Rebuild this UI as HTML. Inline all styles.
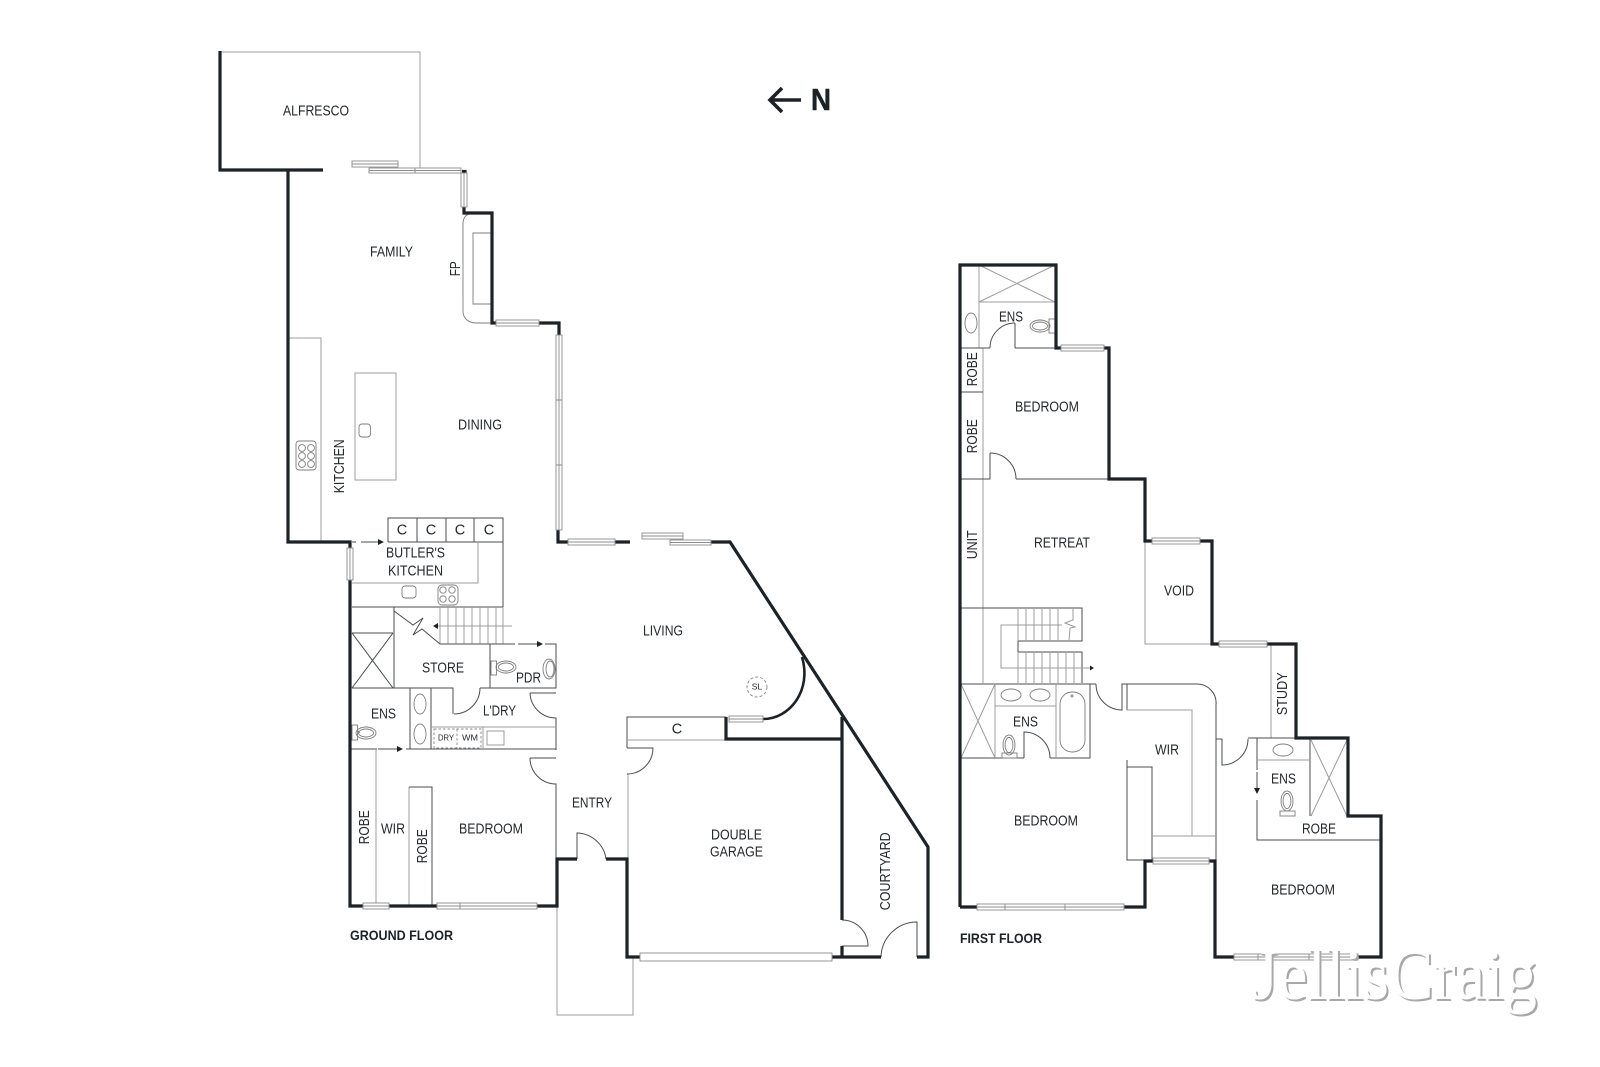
<!DOCTYPE html>
<html><head><meta charset="utf-8"><style>
html,body{margin:0;padding:0;background:#fff}
svg{display:block}
text{font-family:"Liberation Sans",sans-serif;font-size:14.5px;fill:#24292c;text-anchor:start}
.c{text-anchor:middle}
.b{font-weight:bold;font-size:14px;fill:#1c2226}
.w{fill:none;stroke:#1c2226;stroke-width:3.2;stroke-linejoin:miter;stroke-linecap:butt}
.t{fill:none;stroke:#9c9c9c;stroke-width:1}
.m{fill:none;stroke:#4a4e50;stroke-width:1}
.g{fill:#fff;stroke:#8c8c8c;stroke-width:.9}
.f{fill:none;stroke:#7e7e7e;stroke-width:.9}
.d{fill:none;stroke:#8a8a8a;stroke-width:.9;stroke-dasharray:2.5 2}
.wm{font-family:"Liberation Serif",serif;font-size:72px}
</style></head><body>
<svg width="1600" height="1067" viewBox="0 0 1600 1067" xmlns="http://www.w3.org/2000/svg">
<rect width="1600" height="1067" fill="#fff"/>

<!-- thin outlines -->
<path class="t" d="M220 52H420V170M557 906V1015H633V957"/>
<path class="t" d="M289 338H321V542M355 373H396V480H355Z"/>
<rect class="f" x="359" y="424" width="11.500" height="13" rx="3"/>
<rect class="f" x="296" y="441" width="20" height="29" rx="3"/>
<g class="f"><circle cx="302" cy="448" r="3.400"/><circle cx="311" cy="448" r="3.400"/><circle cx="302" cy="456" r="3.400"/><circle cx="311" cy="456" r="3.400"/><circle cx="302" cy="464" r="3.400"/><circle cx="311" cy="464" r="3.400"/></g>
<path class="f" d="M472 213C466 214 463 218 463 224V311C463 318 468 323 476 323H492M492 233H473V304H492"/>

<!-- butler kitchen -->
<path class="m" d="M388 542V518H503V607H352M417 518V542M446 518V542M474 518V542M388 542H503"/>
<path class="t" d="M478 542V583H352"/>
<rect class="f" x="402" y="586" width="14" height="12" rx="3"/>
<rect class="f" x="438" y="585" width="20" height="20" rx="4"/>
<g class="f"><circle cx="443" cy="590" r="3.200"/><circle cx="452" cy="590" r="3.200"/><circle cx="443" cy="599" r="3.200"/><circle cx="452" cy="599" r="3.200"/></g>
<path class="m" d="M352 542H356M361 542H378"/><path d="M378 539L384 542L378 545Z" fill="#1c2226"/>

<!-- stairs ground -->
<path class="t" d="M448 607V644M456 607V644M464 607V644M472 607V644M480 607V644M488 607V644M496 607V644M440 607V644M503 607V644"/>
<path class="t" d="M437 626H512"/><path d="M433 626L438 623V629Z" fill="#1c2226"/>
<path class="m" d="M394 611L413 625L423 618L413 635L422 629L440 644H515M518 644H537"/>
<path d="M537 641L543 644L537 647Z" fill="#1c2226"/>
<path class="m" d="M545 644H556V688H490V644M394 607V688M352 688H453V714M480 688H490M352 633H393M352 633L393 688M393 633L352 688"/>
<path class="m" d="M454 714A26 26 0 0 0 480 688"/>
<path class="m" d="M530 693H556M530 693A26 26 0 0 0 556 718V750M530 758H556M530 758A26 26 0 0 0 556 784V860"/>
<path class="m" d="M410 688V749M431 688V749M350 749H377M406 749H556"/>
<path class="m" d="M378 749H397"/><path d="M397 746L403 749L397 752Z" fill="#1c2226"/>
<path class="t" d="M431 727H556M483 727V749"/>
<rect class="t" x="487" y="731" width="17" height="14"/>
<rect class="d" x="434" y="729" width="47" height="19"/><path class="d" d="M457 729V748"/>
<g class="f">
<ellipse cx="420" cy="704" rx="6" ry="10"/><ellipse cx="420" cy="734" rx="6" ry="10"/>
<ellipse cx="366" cy="733" rx="10" ry="6"/><ellipse cx="366" cy="733" rx="7.500" ry="4"/>
<rect x="352" y="725" width="5.500" height="15"/><path d="M357 730L360 733"/>
<ellipse cx="506" cy="667" rx="10" ry="6"/><ellipse cx="506" cy="667" rx="7.500" ry="4"/>
<rect x="491" y="661" width="5.500" height="14"/>
<ellipse cx="549" cy="669" rx="6" ry="10"/><ellipse cx="550" cy="669" rx="4" ry="8"/>
</g>

<!-- robes / bedroom -->
<path class="t" d="M376 749V906M409 906V787"/>
<path class="m" d="M409 787H432V906"/>

<!-- entry / garage doors -->
<path class="m" d="M577 859V833A30 30 0 0 1 606 859"/>
<path class="t" d="M628 774V859"/>
<path class="m" d="M627 748H653A26 26 0 0 1 627 774"/>
<path class="m" d="M627 748V717H726"/>
<path class="t" d="M627 740H726"/>
<path class="m" d="M842 920A26 26 0 0 1 868 946H842M917 957V922A36 36 0 0 0 881 957"/>
<circle cx="757" cy="687" r="10" fill="none" stroke="#888" stroke-width=".9" stroke-dasharray="3 2"/>

<!-- ground walls -->
<path class="w" d="M220 51V170H323M288 170V542H350V906H363M389 906H437M537 906H557V859H577M606 859H627V957H640M832 957H842V946M842 920V717M842 957H881M917 957H928V847L730 542H711M726 717V739H842"/>
<path class="w" d="M462 171.500H465V173M464 207V213H492V323H496M539 323H559V335M558 530V542H568M615 542H630"/>
<path class="w" style="stroke-width:2.600" d="M763 719C790 719 812 690 802 657"/>

<!-- ground windows -->
<g class="g">
<rect x="352" y="161" width="46" height="6"/><path d="M352 164H398"/>
<rect x="369" y="168" width="46" height="5"/><path d="M369 170.500H415"/>
<rect x="415" y="168" width="46" height="5"/><path d="M415 170.500H461"/>
<rect x="461" y="173" width="6" height="34"/><path d="M464 173V207"/>
<rect x="496" y="320" width="43" height="6"/><path d="M496 323H539"/>
<rect x="556" y="335" width="6" height="195"/><path d="M559 335V530M556 400H562M556 465H562"/>
<rect x="568" y="539" width="47" height="6"/><path d="M568 542H615"/>
<rect x="642" y="533" width="41" height="6"/><path d="M642 536H683"/>
<rect x="670" y="540" width="41" height="5"/><path d="M670 542.500H711"/>
<rect x="347" y="548" width="6" height="32"/><path d="M350 548V580"/>
<rect x="363" y="903" width="26" height="6"/><path d="M363 906H389"/>
<rect x="437" y="903" width="23" height="6"/><path d="M437 906H460"/>
<rect x="460" y="903" width="77" height="6"/><path d="M460 906H537"/>
<rect x="729" y="716" width="34" height="6"/><path d="M729 719H763"/>
<rect x="640" y="953" width="192" height="8"/>
</g>

<!-- first floor thin -->
<path class="t" d="M979 265V348M979 302H1055M979 265L1055 302M1055 265L979 302M983 348V683"/>
<path class="m" d="M960 392H983M960 348H990M1015 348V323M1015 348H1056M960 479H990V453M1016 479H1109"/>
<path class="m" d="M990 348A25 25 0 0 1 1015 323M990 453A26 26 0 0 1 1016 479"/>
<g class="f">
<ellipse cx="971" cy="323" rx="6" ry="10"/>
<ellipse cx="1040" cy="326" rx="10" ry="6"/><ellipse cx="1040" cy="326" rx="7.500" ry="4"/>
<rect x="1049" y="319" width="6" height="14"/>
</g>

<!-- first stairs -->
<path class="m" d="M960 608H1082V641H1018V652H1082V683"/>
<path class="t" d="M1018 608V641M1026 608V641M1034 608V641M1042 608V641M1050 608V641M1058 608V641M1018 652V683M1026 652V683M1034 652V683M1042 652V683M1050 652V683M1058 652V683M1066 652V683M1074 652V683"/>
<path class="t" d="M1062 625H1001V668H1090"/>
<path d="M1090 665.500L1094 668L1090 670.500Z" fill="#1c2226"/>
<path class="t" d="M1073 608V620L1065 623L1075 627L1070 628L1069 641"/>

<!-- first ens -->
<path class="m" d="M960 684H1096M1090 684V758H1050M1024 758H960M1024 758V732A26 26 0 0 1 1050 758"/>
<path class="t" d="M995 684V758M1056 684V758M995 706H1056M961 684L995 758M995 684L961 758"/>
<g class="f">
<ellipse cx="1011" cy="695" rx="10" ry="6"/><ellipse cx="1040" cy="695" rx="10" ry="6"/>
<ellipse cx="1009" cy="745" rx="6" ry="10"/><ellipse cx="1009" cy="745" rx="4" ry="7.500"/>
<rect x="1002" y="753" width="15" height="5"/>
<rect x="1060" y="692" width="25" height="60" rx="12"/>
<circle cx="1072" cy="696" r="1"/>
</g>
<path class="m" d="M1096 684A26 26 0 0 0 1122 710V684H1197A19 19 0 0 1 1216 705V860M1127 684V710M1127 760V860H1145M1127 767H1152V860"/>
<path class="t" d="M1127 710H1192V836M1152 836H1216"/>

<!-- study, rear -->
<path class="t" d="M1271 644V738"/>
<path class="m" d="M1216 739H1222V765A26 26 0 0 0 1248 739M1248 738H1296M1257 738V770M1257 800V816M1257 816V840H1381M1310 738V816"/>
<path class="m" d="M1257 772V788"/><path d="M1254 788L1257 794L1260 788Z" fill="#1c2226"/>
<path class="t" d="M1257 760H1310M1311 816L1347 740M1311 740L1347 816"/>
<g class="f">
<ellipse cx="1283" cy="750" rx="10" ry="6"/>
<ellipse cx="1287" cy="801" rx="6" ry="10"/><ellipse cx="1287" cy="801" rx="4" ry="7.500"/>
<rect x="1280" y="811" width="15" height="5"/>
</g>
<path class="t" d="M1145 541V644H1212"/>

<!-- first walls -->
<path class="w" d="M960 907V265H1056V348H1061M1104 348H1109V479H1145V541H1152M1200 541H1212V644H1219M1267 644H1296V738H1348V816H1381V957H1358M1234 957H1215V861H1209M1153 861H1145V907H1124M977 907H960"/>

<!-- first windows -->
<g class="g">
<rect x="1061" y="345" width="43" height="6"/><path d="M1061 348H1104"/>
<rect x="1152" y="538" width="48" height="6"/><path d="M1152 541H1200"/>
<rect x="1219" y="641" width="48" height="6"/><path d="M1219 644H1267"/>
<rect x="1153" y="858" width="56" height="6"/><path d="M1153 861H1209"/>
<rect x="977" y="904" width="147" height="6"/><path d="M977 907H1124M1005 904V910M1065 904V910"/>
<rect x="1234" y="954" width="124" height="6"/><path d="M1234 957H1358M1258 954V960M1309 954V960"/>
</g>

<!-- north -->
<path d="M801 100H771M782 88L770 100L782 112" fill="none" stroke="#1c2226" stroke-width="3.600"/>
<text x="811" y="110" style="font-size:31px;font-weight:bold;fill:#1c2226;stroke:#1c2226;stroke-width:.5" textLength="20" lengthAdjust="spacingAndGlyphs">N</text>

<!-- labels -->
<g transform="translate(0 -0.7)">
<text x="283" y="116" textLength="66" lengthAdjust="spacingAndGlyphs">ALFRESCO</text>
<text x="370" y="257" textLength="43" lengthAdjust="spacingAndGlyphs">FAMILY</text>
<text transform="translate(460 277) rotate(-90)" textLength="15" lengthAdjust="spacingAndGlyphs">FP</text>
<text transform="translate(344 494) rotate(-90)" textLength="54" lengthAdjust="spacingAndGlyphs">KITCHEN</text>
<text x="458" y="430" textLength="44" lengthAdjust="spacingAndGlyphs">DINING</text>
<text x="386" y="558" textLength="59" lengthAdjust="spacingAndGlyphs">BUTLER'S</text>
<text x="388" y="576" textLength="55" lengthAdjust="spacingAndGlyphs">KITCHEN</text>
<text class="c" x="402" y="535">C</text><text class="c" x="431" y="535">C</text><text class="c" x="460" y="535">C</text><text class="c" x="489" y="535">C</text>
<text x="643" y="636" textLength="40" lengthAdjust="spacingAndGlyphs">LIVING</text>
<text x="422" y="673" textLength="42" lengthAdjust="spacingAndGlyphs">STORE</text>
<text x="516" y="683" textLength="25" lengthAdjust="spacingAndGlyphs">PDR</text>
<text x="371" y="719" textLength="25" lengthAdjust="spacingAndGlyphs">ENS</text>
<text x="483" y="716" textLength="33" lengthAdjust="spacingAndGlyphs">L'DRY</text>
<text x="438" y="741" style="font-size:8.500px" textLength="16" lengthAdjust="spacingAndGlyphs">DRY</text>
<text x="462" y="741" style="font-size:8.500px" textLength="16" lengthAdjust="spacingAndGlyphs">WM</text>
<text transform="translate(369 845) rotate(-90)" textLength="34" lengthAdjust="spacingAndGlyphs">ROBE</text>
<text x="381" y="834" textLength="24" lengthAdjust="spacingAndGlyphs">WIR</text>
<text transform="translate(427 864) rotate(-90)" textLength="34" lengthAdjust="spacingAndGlyphs">ROBE</text>
<text x="459" y="834" textLength="64" lengthAdjust="spacingAndGlyphs">BEDROOM</text>
<text x="572" y="808" textLength="40" lengthAdjust="spacingAndGlyphs">ENTRY</text>
<text class="b" x="350" y="940.500" textLength="103" lengthAdjust="spacingAndGlyphs">GROUND FLOOR</text>
<text class="c" x="677" y="734">C</text>
<text x="711" y="840" textLength="51" lengthAdjust="spacingAndGlyphs">DOUBLE</text>
<text x="710" y="857" textLength="53" lengthAdjust="spacingAndGlyphs">GARAGE</text>
<text transform="translate(890 911) rotate(-90)" textLength="78" lengthAdjust="spacingAndGlyphs">COURTYARD</text>
<text class="c" x="757" y="690" style="font-size:8.500px">SL</text>

<text x="999" y="322" textLength="24" lengthAdjust="spacingAndGlyphs">ENS</text>
<text x="1015" y="412" textLength="64" lengthAdjust="spacingAndGlyphs">BEDROOM</text>
<text transform="translate(977 387) rotate(-90)" textLength="34" lengthAdjust="spacingAndGlyphs">ROBE</text>
<text transform="translate(977 454) rotate(-90)" textLength="34" lengthAdjust="spacingAndGlyphs">ROBE</text>
<text transform="translate(977 560) rotate(-90)" textLength="29" lengthAdjust="spacingAndGlyphs">UNIT</text>
<text x="1034" y="548" textLength="56" lengthAdjust="spacingAndGlyphs">RETREAT</text>
<text x="1164" y="596" textLength="30" lengthAdjust="spacingAndGlyphs">VOID</text>
<text x="1013" y="727" textLength="25" lengthAdjust="spacingAndGlyphs">ENS</text>
<text x="1155" y="755" textLength="24" lengthAdjust="spacingAndGlyphs">WIR</text>
<text x="1014" y="826" textLength="64" lengthAdjust="spacingAndGlyphs">BEDROOM</text>
<text class="b" x="960" y="943.700" textLength="82" lengthAdjust="spacingAndGlyphs">FIRST FLOOR</text>
<text transform="translate(1287 716) rotate(-90)" textLength="43" lengthAdjust="spacingAndGlyphs">STUDY</text>
<text x="1271" y="784" textLength="25" lengthAdjust="spacingAndGlyphs">ENS</text>
<text x="1302" y="834" textLength="34" lengthAdjust="spacingAndGlyphs">ROBE</text>
<text x="1271" y="895" textLength="64" lengthAdjust="spacingAndGlyphs">BEDROOM</text>
</g>

<!-- watermark -->
<text class="wm" x="1254" y="1001" style="fill:#a8a8a8" textLength="285" lengthAdjust="spacingAndGlyphs">JellisCraig</text>
<text class="wm" x="1252" y="999" style="fill:#fff" textLength="285" lengthAdjust="spacingAndGlyphs">JellisCraig</text>
</svg>
</body></html>
